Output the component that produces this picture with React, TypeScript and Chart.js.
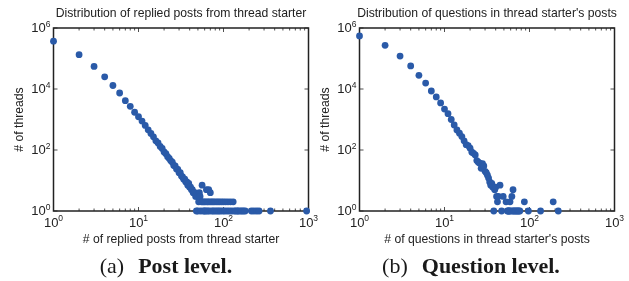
import React, { useEffect, useRef } from "react";
import { Chart, registerables } from "chart.js";

Chart.register(...registerables);

// (a) Post level: number of replied posts from thread starter vs number of threads
const postCounts = [
  1, 2, 3, 4, 5, 6, 7, 8, 9, 10, 11, 12, 13, 14, 15, 16, 17, 18, 19, 20,
  21, 22, 23, 24, 25, 26, 27, 28, 29, 30, 31, 32, 33, 34, 35, 36, 37, 38, 39, 40,
  41, 42, 43, 44, 45, 46, 47, 48, 49, 50, 51, 52, 53, 54, 55, 56, 57, 58, 59, 60,
  61, 62, 63, 64, 65, 66, 67, 68, 69, 70, 72, 73, 75, 76, 78, 80, 82, 84, 86, 88,
  90, 92, 95, 98, 100, 103, 106, 110, 113, 117, 121, 125, 130, 134, 140, 146, 150, 158, 165, 172,
  180, 213, 228, 245, 262, 357, 950,
];
const postThreads = [
  370000, 133000, 55000, 25000, 13000, 7400, 4150, 2700, 1730, 1230, 890, 640, 460, 350, 270, 200, 170, 130, 112, 86,
  76, 60, 53, 44, 40, 31, 30, 24, 23, 18, 18, 14, 13, 11, 11, 9, 9, 7, 8, 6,
  6, 5, 5, 4, 4, 4, 3, 1, 3, 1, 2, 4, 3, 1, 2, 7, 2, 1, 2, 1,
  2, 1, 5, 2, 1, 2, 5, 1, 2, 4, 2, 1, 2, 1, 2, 1, 2, 1, 2, 1,
  2, 1, 2, 1, 2, 1, 2, 1, 2, 1, 2, 1, 2, 1, 1, 1, 1, 1, 1, 1,
  1, 1, 1, 1, 1, 1, 1,
];

// (b) Question level: number of questions in thread starter's posts vs number of threads
const questionCounts = [
  1, 2, 3, 4, 5, 6, 7, 8, 9, 10, 11, 12, 13, 14, 15, 16, 17, 18, 19, 20,
  21, 22, 23, 24, 25, 26, 27, 28, 29, 30, 31, 32, 33, 34, 35, 36, 37, 38, 39, 40,
  41, 42, 43, 45, 47, 49, 53, 55, 56, 57, 58, 59, 60, 62, 63, 64, 65, 67, 69, 71,
  73, 75, 77, 87, 97, 135, 190, 218,
];
const questionThreads = [
  550000, 270000, 120000, 57000, 28000, 15700, 8600, 5500, 3500, 2200, 1550, 1000, 660, 455, 355, 275, 200, 150, 140, 114,
  85, 78, 69, 45, 40, 37, 25, 36, 30, 20, 18, 15, 12, 9, 7, 8, 6, 1, 5, 6,
  3, 2, 3, 7, 1, 3, 2, 1, 1, 1, 1, 2, 1, 3, 1, 5, 1, 1, 1, 1,
  1, 1, 1, 2, 1, 1, 2, 1,
];

const xTickValues = [1, 10, 100, 1000];
const yTickValues = [1, 100, 10000, 1000000];
const minorMultipliers = [2, 3, 4, 5, 6, 7, 8, 9];

const W = 629;
const H = 281;
const DOT = "#2A5AA8";
const INK = "#222222";
const SANS = '"Liberation Sans", Arial, Helvetica, sans-serif';

function drawPower(
  ctx: CanvasRenderingContext2D,
  value: number,
  x: number,
  baseY: number,
  mode: "center" | "right"
) {
  const exp = String(Math.round(Math.log10(value)));
  ctx.font = `13px ${SANS}`;
  const wb = ctx.measureText("10").width;
  ctx.font = `8.5px ${SANS}`;
  const we = ctx.measureText(exp).width;
  const startX = mode === "center" ? x - (wb + we) / 2 : x - (wb + we);
  ctx.textAlign = "left";
  ctx.textBaseline = "alphabetic";
  ctx.font = `13px ${SANS}`;
  ctx.fillText("10", startX, baseY);
  ctx.font = `8.5px ${SANS}`;
  ctx.fillText(exp, startX + wb, baseY - 5.5);
}

type Area = { left: number; right: number; top: number; bottom: number };

function ScatterPanel(props: {
  xs: number[];
  ys: number[];
  title: string;
  xLabel: string;
  yLabel: string;
  area: Area;
}) {
  const ref = useRef<HTMLCanvasElement>(null);
  useEffect(() => {
    const canvas = ref.current!;
    const { xs, ys, title, xLabel, yLabel, area } = props;
    const frame = {
      id: "frame",
      beforeDatasetsDraw(chart: any) {
        const { ctx, chartArea: a, scales } = chart;
        const sx = scales.x;
        const sy = scales.y;
        ctx.save();
        ctx.strokeStyle = INK;
        ctx.lineWidth = 0.8;
        ctx.beginPath();
        xTickValues.forEach((v) => {
          const px = sx.getPixelForValue(v);
          ctx.moveTo(px, a.bottom);
          ctx.lineTo(px, a.bottom - 4);
          ctx.moveTo(px, a.top);
          ctx.lineTo(px, a.top + 4);
        });
        xTickValues.slice(0, -1).forEach((d) => {
          minorMultipliers.forEach((m) => {
            const px = sx.getPixelForValue(d * m);
            ctx.moveTo(px, a.bottom);
            ctx.lineTo(px, a.bottom - 2.5);
            ctx.moveTo(px, a.top);
            ctx.lineTo(px, a.top + 2.5);
          });
        });
        yTickValues.forEach((v) => {
          const py = sy.getPixelForValue(v);
          ctx.moveTo(a.left, py);
          ctx.lineTo(a.left + 4, py);
          ctx.moveTo(a.right, py);
          ctx.lineTo(a.right - 4, py);
        });
        ctx.stroke();
        ctx.lineWidth = 1.5;
        ctx.strokeRect(a.left, a.top, a.right - a.left, a.bottom - a.top);
        ctx.restore();
      },
      afterDraw(chart: any) {
        const { ctx, chartArea: a, scales } = chart;
        const sx = scales.x;
        const sy = scales.y;
        ctx.save();
        ctx.fillStyle = INK;
        xTickValues.forEach((v) => {
          drawPower(ctx, v, sx.getPixelForValue(v), a.bottom + 15.7, "center");
        });
        yTickValues.forEach((v) => {
          drawPower(ctx, v, a.left - 3, sy.getPixelForValue(v) + 4, "right");
        });
        const cx = (a.left + a.right) / 2;
        ctx.font = `12.2px ${SANS}`;
        ctx.textAlign = "center";
        ctx.textBaseline = "alphabetic";
        ctx.fillText(title, cx, 17);
        ctx.fillText(xLabel, cx, 242.5);
        ctx.translate(a.left - 30.5, (a.top + a.bottom) / 2);
        ctx.rotate(-Math.PI / 2);
        ctx.fillText(yLabel, 0, 0);
        ctx.restore();
      },
    };
    const chart = new Chart(canvas, {
      type: "scatter",
      data: {
        datasets: [
          {
            data: xs.map((x, i) => ({ x, y: ys[i] })),
            pointRadius: 3.4,
            pointHoverRadius: 3.4,
            backgroundColor: DOT,
            borderWidth: 0,
            clip: false as any,
          },
        ],
      },
      options: {
        responsive: false,
        animation: false,
        events: [],
        layout: {
          padding: {
            left: area.left,
            right: W - area.right,
            top: area.top,
            bottom: H - area.bottom,
          },
        },
        scales: {
          x: { type: "logarithmic", min: 1, max: 1000, display: false },
          y: { type: "logarithmic", min: 1, max: 1000000, display: false },
        },
        plugins: {
          legend: { display: false },
          tooltip: { enabled: false },
          title: { display: false },
        },
      },
      plugins: [frame],
    });
    return () => chart.destroy();
  }, []);
  return (
    <canvas
      ref={ref}
      width={W}
      height={H}
      style={{ position: "absolute", left: 0, top: 0, width: W, height: H }}
    />
  );
}

const captionStyle: React.CSSProperties = {
  position: "absolute",
  top: 253,
  textAlign: "center",
  fontFamily: '"Liberation Serif", "Times New Roman", serif',
  fontSize: 22,
  lineHeight: "26px",
  color: "#1a1a1a",
  whiteSpace: "nowrap",
};

export default function App() {
  return (
    <div
      style={{
        position: "absolute",
        left: 0,
        top: 0,
        width: W,
        height: H,
        background: "#ffffff",
        overflow: "hidden",
      }}
    >
      <ScatterPanel
        xs={postCounts}
        ys={postThreads}
        title="Distribution of replied posts from thread starter"
        xLabel="# of replied posts from thread starter"
        yLabel="# of threads"
        area={{ left: 53.5, right: 308.5, top: 28, bottom: 211 }}
      />
      <ScatterPanel
        xs={questionCounts}
        ys={questionThreads}
        title="Distribution of questions in thread starter's posts"
        xLabel="# of questions in thread starter's posts"
        yLabel="# of threads"
        area={{ left: 359.5, right: 614.5, top: 28, bottom: 211 }}
      />
      <div style={{ ...captionStyle, left: 0, width: 332 }}>
        (a)<span style={{ display: "inline-block", width: 14 }} />
        <b>Post level.</b>
      </div>
      <div style={{ ...captionStyle, left: 321, width: 300 }}>
        (b)<span style={{ display: "inline-block", width: 14 }} />
        <b>Question level.</b>
      </div>
    </div>
  );
}
